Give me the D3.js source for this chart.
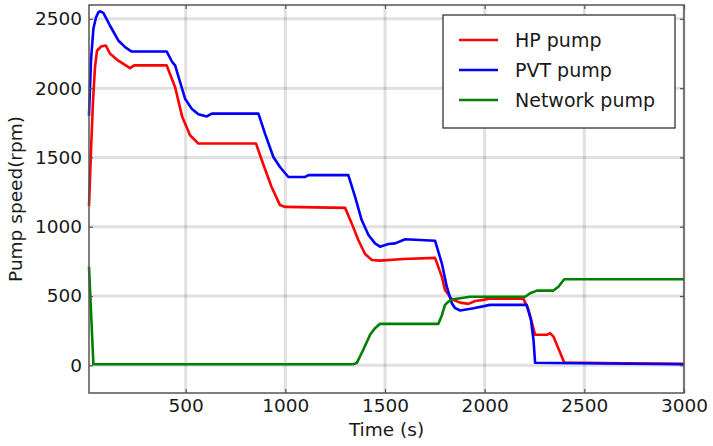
<!DOCTYPE html>
<html>
<head>
<meta charset="utf-8">
<script src="https://cdn.jsdelivr.net/npm/d3@7"></script>
<style>
  body { margin: 0; background: #fff; }
  svg { display: block; font-family: "DejaVu Sans", sans-serif; }
</style>
</head>
<body>
<div id="chart"></div>
<script>
// time (s) and pump speed (rpm)
const hpTime = [15, 25, 35, 45, 55, 75, 99, 120, 160, 221, 242, 405, 447, 483, 522, 564, 853, 882, 930, 973, 999, 1300, 1333, 1366, 1400, 1434, 1475, 1592, 1751, 1785, 1801, 1835, 1877, 1919, 1952, 1994, 2019, 2194, 2220, 2253, 2312, 2328, 2345, 2399, 2700, 3000];
const hpSpeed = [1150, 1550, 1900, 2150, 2270, 2300, 2308, 2250, 2200, 2144, 2164, 2164, 2007, 1791, 1660, 1600, 1600, 1480, 1290, 1156, 1143, 1136, 1024, 904, 803, 760, 755, 767, 775, 640, 544, 476, 452, 443, 464, 472, 481, 481, 400, 220, 220, 232, 207, 20, 15, 10];

const pvtTime = [15, 25, 37, 50, 62, 70, 87, 120, 162, 196, 229, 405, 433, 447, 472, 497, 530, 564, 606, 631, 865, 898, 940, 973, 1015, 1099, 1116, 1316, 1350, 1383, 1417, 1450, 1475, 1517, 1551, 1601, 1751, 1785, 1810, 1835, 1852, 1877, 1944, 2027, 2211, 2232, 2245, 2253, 2600, 3000];
const pvtSpeed = [1800, 2200, 2428, 2510, 2547, 2555, 2543, 2452, 2344, 2296, 2264, 2264, 2187, 2164, 2043, 1924, 1852, 1811, 1796, 1816, 1816, 1672, 1503, 1431, 1359, 1359, 1372, 1372, 1215, 1048, 940, 880, 856, 875, 880, 909, 899, 736, 567, 448, 412, 395, 412, 436, 436, 328, 184, 18, 13, 8];

const netTime = [15, 37, 1340, 1358, 1391, 1425, 1450, 1475, 1768, 1785, 1801, 1818, 1843, 1877, 1927, 2203, 2228, 2262, 2345, 2370, 2399, 3000];
const netSpeed = [711, 8, 8, 16, 112, 220, 268, 299, 299, 360, 436, 459, 476, 484, 495, 495, 520, 539, 539, 567, 621, 621];

const seriesNames = ["HP pump", "PVT pump", "Network pump"];
const seriesColors = ["#ff0000", "#0000ff", "#008000"];

const xTicks = [500, 1000, 1500, 2000, 2500, 3000];
const yTicks = [0, 500, 1000, 1500, 2000, 2500];

const width = 713;
const height = 446;
const margin = { top: 5, right: 29, bottom: 53, left: 89 };
const plotW = width - margin.left - margin.right;
const plotH = height - margin.top - margin.bottom;

const x = d3.scaleLinear().domain([15, 3000]).range([0, plotW]);
const y = d3.scaleLinear().domain([-200, 2600]).range([plotH, 0]);

const svg = d3.select("#chart")
    .append("svg")
    .attr("width", width)
    .attr("height", height);

const g = svg.append("g")
    .attr("transform", "translate(" + margin.left + "," + margin.top + ")");

// grid
g.append("g")
    .selectAll("line")
    .data(xTicks)
    .join("line")
    .attr("x1", d => x(d)).attr("x2", d => x(d))
    .attr("y1", 0).attr("y2", plotH)
    .attr("stroke", "rgba(0,0,0,0.12)")
    .attr("stroke-width", 3);

g.append("g")
    .selectAll("line")
    .data(yTicks)
    .join("line")
    .attr("x1", 0).attr("x2", plotW)
    .attr("y1", d => y(d)).attr("y2", d => y(d))
    .attr("stroke", "rgba(0,0,0,0.12)")
    .attr("stroke-width", 3);

// lines
const allSeries = [
    d3.zip(hpTime, hpSpeed),
    d3.zip(pvtTime, pvtSpeed),
    d3.zip(netTime, netSpeed)
];

const line = d3.line()
    .x(d => x(d[0]))
    .y(d => y(d[1]));

g.append("g")
    .selectAll("path")
    .data(allSeries)
    .join("path")
    .attr("d", line)
    .attr("fill", "none")
    .attr("stroke", (d, i) => seriesColors[i])
    .attr("stroke-width", 2.6)
    .attr("stroke-linejoin", "round");

// axes (ticks pointing inward)
const axisColor = "#555";
const fmt = d3.format("d");

function styleAxis(sel) {
    sel.select(".domain").remove();
    sel.selectAll(".tick line").attr("stroke", axisColor).attr("stroke-width", 1.2);
    sel.selectAll("text")
        .attr("font-size", 18.5)
        .attr("fill", "#1a1a1a")
        .attr("font-family", "DejaVu Sans");
}

g.append("g")
    .attr("transform", "translate(0," + plotH + ")")
    .call(d3.axisBottom(x).tickValues(xTicks).tickFormat(fmt).tickSizeInner(-4).tickSizeOuter(0).tickPadding(6))
    .call(styleAxis);

g.append("g")
    .call(d3.axisTop(x).tickValues(xTicks).tickSizeInner(-4).tickSizeOuter(0).tickFormat(""))
    .call(styleAxis);

g.append("g")
    .call(d3.axisLeft(y).tickValues(yTicks).tickFormat(fmt).tickSizeInner(-4).tickSizeOuter(0).tickPadding(7))
    .call(styleAxis);

g.append("g")
    .attr("transform", "translate(" + plotW + ",0)")
    .call(d3.axisRight(y).tickValues(yTicks).tickSizeInner(-4).tickSizeOuter(0).tickFormat(""))
    .call(styleAxis);

// frame
g.append("rect")
    .attr("width", plotW)
    .attr("height", plotH)
    .attr("fill", "none")
    .attr("stroke", axisColor)
    .attr("stroke-width", 1.5);

// axis titles
svg.append("text")
    .attr("x", margin.left + plotW / 2)
    .attr("y", 436)
    .attr("text-anchor", "middle")
    .attr("font-size", 18.5)
    .attr("fill", "#1a1a1a")
    .text("Time (s)");

svg.append("text")
    .attr("transform", "translate(22," + (margin.top + plotH / 2) + ") rotate(-90)")
    .attr("text-anchor", "middle")
    .attr("font-size", 18.5)
    .attr("fill", "#1a1a1a")
    .text("Pump speed(rpm)");

// legend
const legend = svg.append("g")
    .attr("transform", "translate(443,15)");

legend.append("rect")
    .attr("width", 232)
    .attr("height", 113)
    .attr("fill", "#fff")
    .attr("stroke", "#333")
    .attr("stroke-width", 1.3);

const items = legend.selectAll("g.item")
    .data(seriesNames)
    .join("g")
    .attr("class", "item")
    .attr("transform", (d, i) => "translate(0," + (25 + i * 30) + ")");

items.append("line")
    .attr("x1", 16).attr("x2", 55)
    .attr("stroke", (d, i) => seriesColors[i])
    .attr("stroke-width", 2.6);

items.append("text")
    .attr("x", 72)
    .attr("dy", "0.36em")
    .attr("font-size", 19)
    .attr("fill", "#1a1a1a")
    .text(d => d);
</script>
</body>
</html>
